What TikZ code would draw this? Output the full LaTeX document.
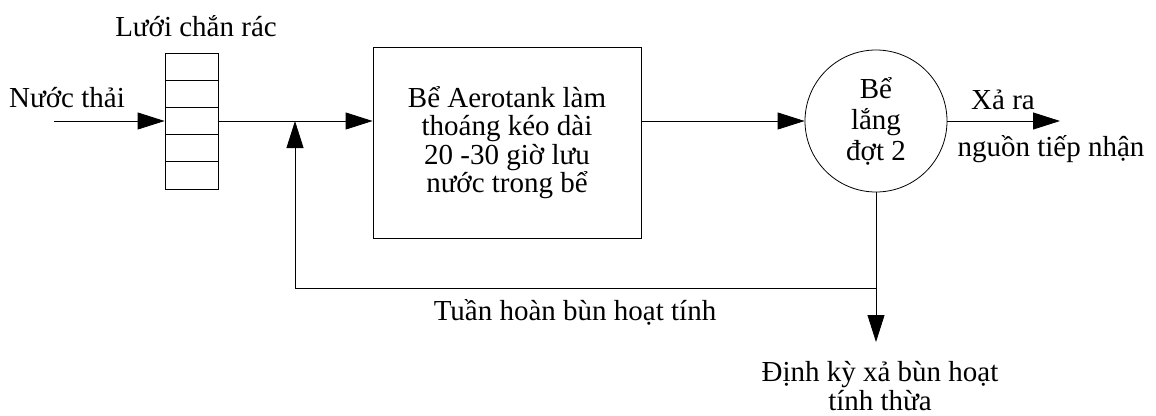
\documentclass[tikz,border=0pt]{standalone}
\usepackage{fontspec}
\setmainfont{Liberation Serif}
\usetikzlibrary{arrows.meta}
\begin{document}
\begin{tikzpicture}[x=1pt,y=-1pt,
  font=\fontsize{29}{28.5}\selectfont,
  flow/.style={-{Triangle[length=27pt,width=17pt]}},
  every path/.style={line width=0.8pt}]
\useasboundingbox (0,0) rectangle (1156,415);

% screen, aeration tank and clarifier
\node[draw, minimum width=53, minimum height=136, inner sep=0] (screen) at (191.5,121) {};
\foreach \i in {1,...,4}
  \draw (165,53+27.2*\i) -- (218,53+27.2*\i);
\node[draw, minimum width=268, minimum height=191, align=center] (tank) at (507,142.5)
  {Bể Aerotank làm\\thoáng kéo dài\\20 -30 giờ lưu\\nước trong bể};
\node[draw, circle, minimum size=142, inner sep=0, align=center,
  font=\fontsize{29}{31}\selectfont] (settler) at (876,121)
  {Bể\\lắng\\đợt 2};

% free ends of the connectors
\coordinate (in) at (54,121);
\coordinate (out) at (1060,121);
\coordinate (join) at (295,121);
\coordinate (ret) at (295,288);
\coordinate (split) at (876,288);
\coordinate (waste) at (876,342);

\draw[flow] (in) -- (screen);
\draw[flow] (screen) -- (screen -| tank.west);
\draw[flow] (settler -| tank.east) -- (settler);
\draw[flow] (settler) -- (out);
\draw[flow] (settler.south) -- (waste);
\draw[flow] (split) -- (ret) -- (join); % sludge return

% labels
\node (lbin) at (67,98) {Nước thải};
\node (lbscreen) at (196,26) {Lưới chắn rác};
\node (lbout1) at (1003,100) {Xả ra};
\node (lbout2) at (1051,149) {nguồn tiếp nhận};
\node (lbret) at (575,312) {Tuần hoàn bùn hoạt tính};
\node[align=center, font=\fontsize{29}{29}\selectfont] (lbwaste) at (880,386)
  {Định kỳ xả bùn hoạt\\tính thừa};
\end{tikzpicture}
\end{document}
